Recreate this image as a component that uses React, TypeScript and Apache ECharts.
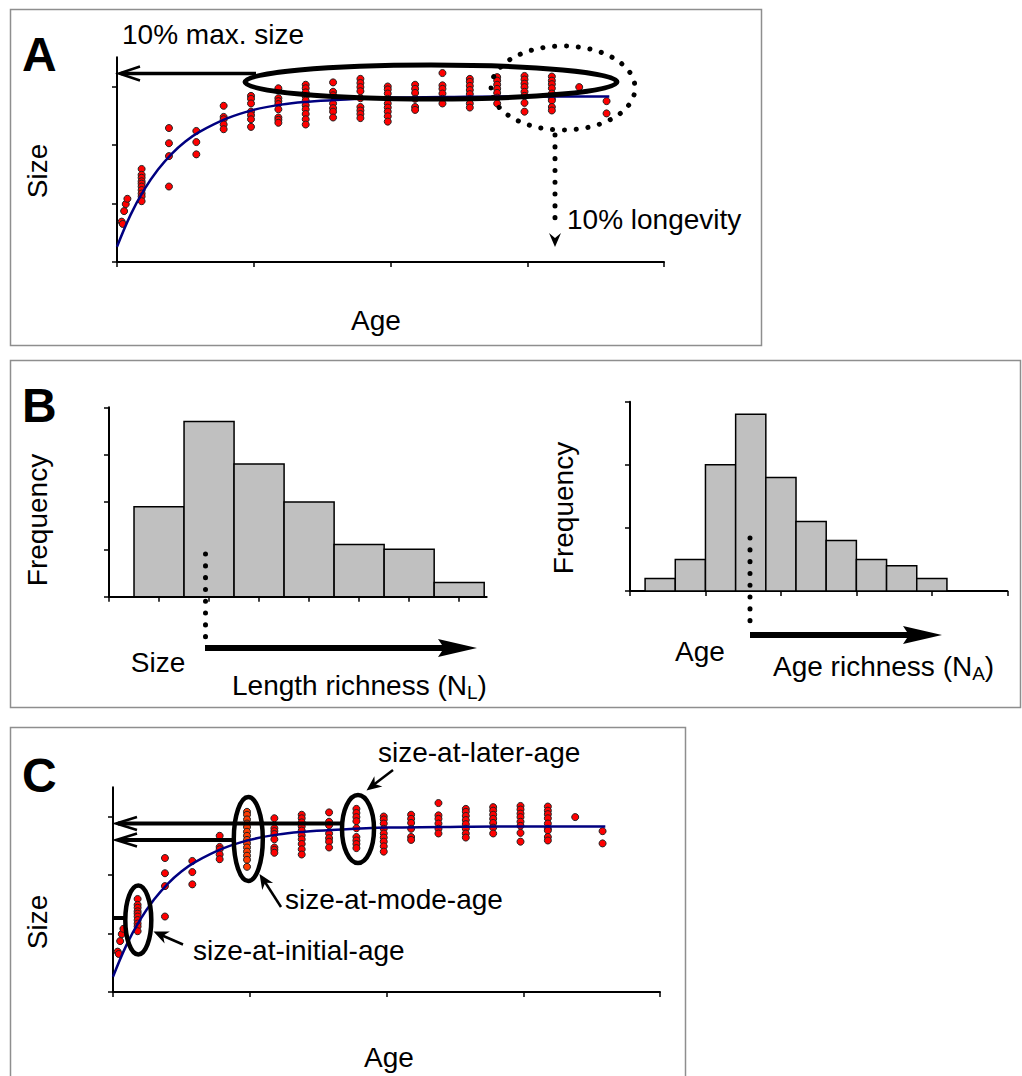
import React, { useEffect, useRef } from "react";
import * as echarts from "echarts";

const FONT = "'Liberation Sans', Arial, Helvetica, sans-serif";

// ---------- Panel A / C : size-at-age scatter ----------
const earlyAges = [0.17, 0.21, 0.26, 0.32, 0.38];
const earlySizes = [6.9, 6.5, 8.7, 9.9, 10.8];

const columnAges = [0.9, 1.9, 2.9, 3.9, 4.9, 5.9, 6.9, 7.9, 8.9, 9.9, 10.9, 11.9, 12.9, 13.9, 14.9, 15.9, 16.9, 17.9];
const columnSizes = [
  [15.9, 14.9, 14.4, 13.8, 13.4, 12.9, 12.3, 11.7, 11.2, 10.4],
  [22.9, 20.3, 18.1, 12.9],
  [22.4, 20.5, 18.4],
  [26.7, 24.8, 24.4, 23.5, 22.7],
  [28.4, 27.9, 27.1, 25.7, 25.1, 24.4, 23.1],
  [29.7, 28.0, 27.5, 27.0, 26.1, 24.7, 24.3, 23.8],
  [30.3, 29.7, 29.0, 28.3, 27.6, 26.8, 26.1, 25.3, 24.4, 23.5],
  [30.7, 29.1, 28.5, 27.1, 26.3, 25.7, 24.7],
  [31.3, 30.6, 29.9, 29.2, 28.0, 26.5, 25.9, 25.3, 24.6],
  [30.0, 29.5, 28.8, 27.9, 27.1, 26.4, 25.7, 24.9, 24.0],
  [30.3, 29.6, 28.9, 27.9, 26.5, 26.0],
  [32.3, 30.2, 29.6, 28.8, 27.9, 27.1],
  [31.3, 30.8, 30.1, 29.4, 28.7, 27.9, 27.1, 26.4],
  [31.6, 31.0, 30.3, 29.6, 28.9, 28.1, 27.1],
  [31.8, 31.2, 30.5, 29.9, 29.1, 28.4, 27.2, 25.7],
  [31.7, 31.0, 30.4, 29.7, 28.8, 27.9, 27.6, 26.5, 25.9],
  [29.9],
  [27.5, 25.4],
];
// panel C: the mode-age column (age 4.9) is a denser sample
const modeAgeC = 4.9;
const modeSizesC = [30.8, 30.3, 29.5, 28.8, 28.2, 27.4, 26.7, 26.0, 25.4, 24.7, 24.0, 23.3, 22.6, 21.4];

// fitted growth curve
const curveAges = [0, 0.5, 1, 1.5, 2, 2.5, 3, 4, 5, 6, 7, 8, 10, 12, 14, 16, 18];
const curveSizes = [2.6, 8.1, 12.4, 15.8, 18.5, 20.6, 22.2, 24.5, 26.0, 26.9, 27.4, 27.7, 28.1, 28.2, 28.3, 28.3, 28.3];

const sizeTicks = [0, 10, 20, 30];
const ageTicks = [0, 5, 10, 15, 20];

// ---------- Panel B : histograms ----------
const lengthBinEdges = [0.5, 1.5, 2.5, 3.5, 4.5, 5.5, 6.5, 7.5];
const lengthFreq = [19, 37, 28, 20, 11, 10, 3];
const lengthTicks = [0, 1, 2, 3, 4, 5, 6, 7];
const lengthFreqTicks = [0, 10, 20, 30, 40];

const ageBinEdges = [0.2, 0.6, 1.0, 1.4, 1.8, 2.2, 2.6, 3.0, 3.4, 3.8, 4.2];
const ageFreq = [2, 5, 20, 28, 18, 11, 8, 5, 4, 2];
const ageHistTicks = [0, 1, 2, 3, 4, 5];
const ageFreqTicks = [0, 10, 20, 30];

// ---------- helpers ----------
function scatterPoints(includeMode: boolean) {
  const pts: number[][] = [];
  earlyAges.forEach((a, i) => pts.push([a, earlySizes[i]]));
  columnAges.forEach((a, i) => {
    if (!includeMode && a === modeAgeC) return;
    columnSizes[i].forEach((s) => pts.push([a, s]));
  });
  return pts;
}
const curveData = curveAges.map((a, i) => [a, curveSizes[i]]);
const binData = (edges: number[], freq: number[]) => freq.map((f, i) => [edges[i], edges[i + 1], f]);

function axis(gridIndex: number, min: number, max: number, ticks: number[]) {
  return {
    type: "value",
    gridIndex,
    min,
    max,
    interval: ticks[1] - ticks[0],
    axisLine: { show: true, onZero: false, lineStyle: { color: "#000", width: 2 } },
    axisTick: { show: true, length: 5, lineStyle: { color: "#000", width: 1.5 }, customValues: ticks },
    axisLabel: { show: false },
    splitLine: { show: false },
  };
}

function headPts(tip: number[], from: number[], len: number, hw: number, notch = 0.3) {
  const dx = tip[0] - from[0];
  const dy = tip[1] - from[1];
  const d = Math.hypot(dx, dy);
  const ux = dx / d, uy = dy / d;
  const px = -uy, py = ux;
  const bx = tip[0] - ux * len, by = tip[1] - uy * len;
  return [
    tip,
    [bx + px * hw, by + py * hw],
    [tip[0] - ux * len * (1 - notch), tip[1] - uy * len * (1 - notch)],
    [bx - px * hw, by - py * hw],
  ];
}

const FS = 28;
const Z = 100;
const txt = (x: number, y: number, text: string, o: any = {}) => ({
  type: "text",
  x,
  y,
  rotation: o.rotation || 0,
  z: Z,
  silent: true,
  style: {
    text,
    x: 0,
    y: 0,
    fill: "#000",
    fontSize: o.fontSize || FS,
    fontWeight: o.fontWeight || "normal",
    fontFamily: FONT,
    align: o.align || "left",
    verticalAlign: "middle",
  },
});
const line = (x1: number, y1: number, x2: number, y2: number, w: number, dotted = false) => ({
  type: "line",
  z: Z,
  silent: true,
  shape: { x1, y1, x2, y2 },
  style: dotted
    ? { stroke: "#000", lineWidth: 5, lineDash: [0.1, 11.7], lineCap: "round" }
    : { stroke: "#000", lineWidth: w },
});
const chevron = (pts: number[][], w = 2.5) => ({
  type: "polyline",
  z: Z,
  silent: true,
  shape: { points: pts },
  style: { stroke: "#000", lineWidth: w, fill: "none", lineJoin: "miter" },
});
const poly = (pts: number[][]) => ({
  type: "polygon",
  z: Z,
  silent: true,
  shape: { points: pts },
  style: { fill: "#000", stroke: "none" },
});
const ellipse = (cx: number, cy: number, rx: number, ry: number, w: number, dotted = false) => ({
  type: "ellipse",
  z: Z,
  silent: true,
  shape: { cx, cy, rx, ry },
  style: dotted
    ? { fill: "none", stroke: "#000", lineWidth: 5, lineDash: [0.1, 11.7], lineCap: "round" }
    : { fill: "none", stroke: "#000", lineWidth: w },
});
const box = (x: number, y: number, w: number, h: number) => ({
  type: "rect",
  z: 1,
  silent: true,
  shape: { x, y, width: w, height: h },
  style: { fill: "none", stroke: "#8e8e8e", lineWidth: 1.5 },
});

function measure(t: string, size: number) {
  const c = document.createElement("canvas").getContext("2d");
  if (!c) return t.length * size * 0.5;
  c.font = `${size}px ${FONT}`;
  return c.measureText(t).width;
}

function subLabel(x: number, y: number, main: string, sub: string) {
  const w1 = measure(main, FS);
  const w2 = measure(sub, 19);
  return [txt(x, y, main), txt(x + w1, y + 7, sub, { fontSize: 19 }), txt(x + w1 + w2, y, ")")];
}

export default function App() {
  const ref = useRef<HTMLDivElement>(null);

  useEffect(() => {
    if (!ref.current) return;
    const chart = echarts.init(ref.current, undefined, { renderer: "svg" });

    const scatterStyle = (color: string) => ({
      type: "scatter",
      symbol: "circle",
      symbolSize: 7,
      itemStyle: { color, borderColor: "#222", borderWidth: 1, opacity: 1 },
      z: 3,
    });
    const curveStyle = {
      type: "line",
      showSymbol: false,
      smooth: 0.4,
      lineStyle: { color: "#000080", width: 2.5 },
      z: 4,
    };
    const histRender = (params: any, api: any) => {
      const s = api.coord([api.value(0), api.value(2)]);
      const e = api.coord([api.value(1), 0]);
      return {
        type: "rect",
        shape: { x: s[0], y: s[1], width: e[0] - s[0], height: e[1] - s[1] },
        style: { fill: "#c0c0c0", stroke: "#000", lineWidth: 1.5 },
      };
    };

    const graphics: any[] = [
      // panel frames
      box(10.5, 9.5, 751, 336),
      box(10.5, 360.5, 1010, 347),
      box(10.5, 727.5, 675, 360),

      // ---------- Panel A ----------
      txt(22, 54, "A", { fontSize: 48, fontWeight: "bold" }),
      txt(122, 34, "10% max. size"),
      txt(37, 171, "Size", { rotation: Math.PI / 2, align: "center" }),
      txt(376, 320, "Age", { align: "center" }),
      txt(567, 219, "10% longevity"),
      line(121, 73.5, 256, 73.5, 3.5),
      chevron([[140, 66.5], [119, 73.5], [140, 80.5]]),
      ellipse(431, 82, 186, 17, 5),
      ellipse(563, 88, 72, 42, 5, true),
      line(555, 135, 555, 228, 5, true),
      poly(headPts([555, 247], [555, 230], 14, 6, 0.35)),

      // ---------- Panel B ----------
      txt(22, 405, "B", { fontSize: 48, fontWeight: "bold" }),
      txt(37, 520, "Frequency", { rotation: Math.PI / 2, align: "center" }),
      txt(158, 662, "Size", { align: "center" }),
      ...subLabel(232, 685, "Length richness (N", "L"),
      line(205.5, 554, 205.5, 640, 5, true),
      line(205, 648, 450, 648, 6),
      poly([[477, 648], [438, 639], [444, 648], [438, 657]]),

      txt(563, 508, "Frequency", { rotation: Math.PI / 2, align: "center" }),
      txt(700, 651, "Age", { align: "center" }),
      ...subLabel(773, 666, "Age richness (N", "A"),
      line(750, 538, 750, 628, 5, true),
      line(750, 635, 915, 635, 6),
      poly([[942, 635], [903, 626], [909, 635], [903, 644]]),

      // ---------- Panel C ----------
      txt(22, 775, "C", { fontSize: 48, fontWeight: "bold" }),
      txt(37, 922, "Size", { rotation: Math.PI / 2, align: "center" }),
      txt(389, 1057, "Age", { align: "center" }),
      txt(378, 752, "size-at-later-age"),
      txt(285, 899, "size-at-mode-age"),
      txt(193, 950, "size-at-initial-age"),
      line(118, 823.5, 342, 823.5, 4),
      chevron([[137, 817], [116, 823.5], [137, 830]]),
      line(118, 840, 234, 840, 4),
      chevron([[137, 833.5], [116, 840], [137, 846.5]]),
      line(113, 918, 126, 918, 4),
      ellipse(138.3, 920, 13, 34.5, 4.5),
      ellipse(248.3, 839, 14.5, 42, 4.5),
      ellipse(358, 829, 16, 34, 4.5),
      line(183, 944.5, 160, 934.5, 2.5),
      poly(headPts([153.5, 931.5], [183, 944.5], 15, 6.5, 0.3)),
      line(281, 907, 264, 880.5, 2.5),
      poly(headPts([259.5, 874], [281, 907], 15, 6.5, 0.3)),
      line(393, 770, 372, 786, 2.5),
      poly(headPts([366.5, 790.5], [393, 770], 15, 6.5, 0.3)),
    ];

    chart.setOption({
      animation: false,
      backgroundColor: "#fff",
      grid: [
        { left: 117, top: 57.25, width: 547, height: 204.75 },
        { left: 109, top: 407.3, width: 377.7, height: 189.4 },
        { left: 630, top: 401.7, width: 377.3, height: 189.3 },
        { left: 113, top: 787.25, width: 547, height: 204.75 },
      ],
      xAxis: [
        axis(0, 0, 20, ageTicks),
        axis(1, 0, 7.55, lengthTicks),
        axis(2, 0, 5, ageHistTicks),
        axis(3, 0, 20, ageTicks),
      ],
      yAxis: [
        axis(0, 0, 35, sizeTicks),
        axis(1, 0, 40, lengthFreqTicks),
        axis(2, 0, 30, ageFreqTicks),
        axis(3, 0, 35, sizeTicks),
      ],
      series: [
        { ...scatterStyle("#ff0000"), name: "Size-at-age A", xAxisIndex: 0, yAxisIndex: 0, data: scatterPoints(true) },
        { ...curveStyle, name: "Growth curve A", xAxisIndex: 0, yAxisIndex: 0, data: curveData },
        {
          type: "custom",
          name: "Length frequency",
          xAxisIndex: 1,
          yAxisIndex: 1,
          renderItem: histRender,
          encode: { x: [0, 1], y: 2 },
          data: binData(lengthBinEdges, lengthFreq),
        },
        {
          type: "custom",
          name: "Age frequency",
          xAxisIndex: 2,
          yAxisIndex: 2,
          renderItem: histRender,
          encode: { x: [0, 1], y: 2 },
          data: binData(ageBinEdges, ageFreq),
        },
        { ...scatterStyle("#ff0000"), name: "Size-at-age C", xAxisIndex: 3, yAxisIndex: 3, data: scatterPoints(false) },
        {
          ...scatterStyle("#ff3a00"),
          name: "Size-at-mode-age C",
          xAxisIndex: 3,
          yAxisIndex: 3,
          data: modeSizesC.map((s) => [modeAgeC, s]),
        },
        { ...curveStyle, name: "Growth curve C", xAxisIndex: 3, yAxisIndex: 3, data: curveData },
      ],
      graphic: { elements: graphics },
    });

    return () => chart.dispose();
  }, []);

  return (
    <div
      ref={ref}
      style={{ position: "absolute", left: 0, top: 0, width: 1022, height: 1076, background: "#fff" }}
    />
  );
}
